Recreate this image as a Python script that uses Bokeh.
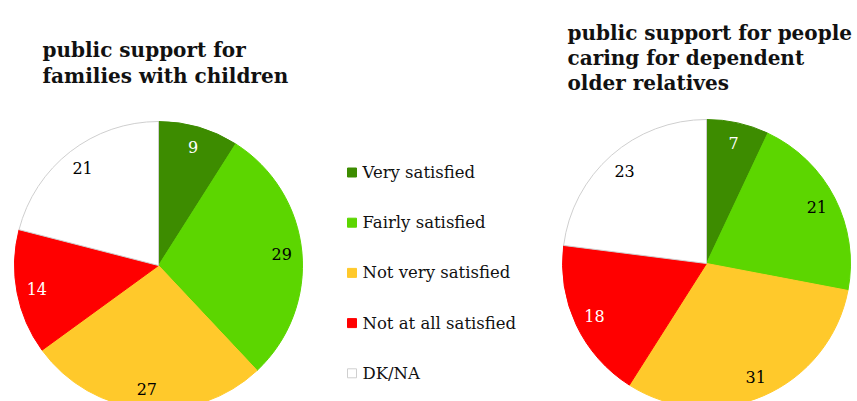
import numpy as np
from bokeh.plotting import figure
from bokeh.models import Range1d, ColumnDataSource
from bokeh.core.properties import value
from bokeh.embed import file_html
from bokeh.resources import INLINE

# ---- data ----
categories = ["Very satisfied", "Fairly satisfied", "Not very satisfied",
              "Not at all satisfied", "DK/NA"]
families_values = [9, 29, 27, 14, 21]
elderly_values = [7, 21, 31, 18, 23]
title_families = ["public support for", "families with children"]
title_elderly = ["public support for people", "caring for dependent", "older relatives"]

colors = ["#3d8c00", "#5cd600", "#ffc92b", "#ff0000", "#ffffff"]
outline = ["#3d8c00", "#5cd600", "#ffc92b", "#ff0000", "#cfcfcf"]
label_colors = ["white", "black", "black", "white", "black"]

W, H = 857, 401
SERIF = "DejaVu Serif"

p = figure(width=W, height=H, output_backend="svg", toolbar_location=None,
           x_range=Range1d(0, W), y_range=Range1d(0, H), min_border=0)
p.axis.visible = False
p.grid.visible = False
p.outline_line_color = None


def py(Y):  # screenshot pixel y -> data y
    return H - Y


def px(X):
    return X


def pie(vals, cx, cy, r):
    v = np.array(vals, dtype=float)
    frac = v / v.sum()
    cum = np.concatenate([[0], np.cumsum(frac)])
    start = np.pi / 2 - 2 * np.pi * cum[:-1]
    end = np.pi / 2 - 2 * np.pi * cum[1:]
    mid = (start + end) / 2
    src = ColumnDataSource(dict(start=start, end=end, color=colors, line=outline))
    p.wedge(x=cx, y=cy, radius=r, start_angle="start", end_angle="end",
            direction="clock", fill_color="color", line_color="line",
            line_width=1, source=src)
    lr = 0.86 * r
    lsrc = ColumnDataSource(dict(x=cx + lr * np.cos(mid), y=cy + lr * np.sin(mid),
                                 t=[str(x) for x in vals], c=label_colors))
    p.text(x="x", y="y", text="t", text_color="c", source=lsrc,
           text_font=value(SERIF), text_font_size="16px",
           text_align="center", text_baseline="middle")


pie(families_values, px(158), py(265), 144)
pie(elderly_values, px(706), py(263), 144)

# titles
for i, line in enumerate(title_families):
    p.text(x=[px(42)], y=[py(49 + 26 * i)], text=[line], text_font=value(SERIF),
           text_font_style="bold", text_font_size="20px", text_color="#111111",
           text_align="left", text_baseline="alphabetic")
for i, line in enumerate(title_elderly):
    p.text(x=[px(567)], y=[py(32 + 25 * i)], text=[line], text_font=value(SERIF),
           text_font_style="bold", text_font_size="20px", text_color="#111111",
           text_align="left", text_baseline="alphabetic")

# legend
ly = [py(172 + 50.2 * i) for i in range(len(categories))]
p.scatter(x=[px(351.5)] * len(categories), y=ly, marker="square", size=9,
          fill_color=colors, line_color=outline, line_width=1)
p.text(x=[px(362)] * len(categories), y=ly, text=categories, text_font=value(SERIF),
       text_font_size="16.5px", text_color="#111111", text_align="left",
       text_baseline="middle")

open("out.html", "w").write(file_html(p, INLINE))
